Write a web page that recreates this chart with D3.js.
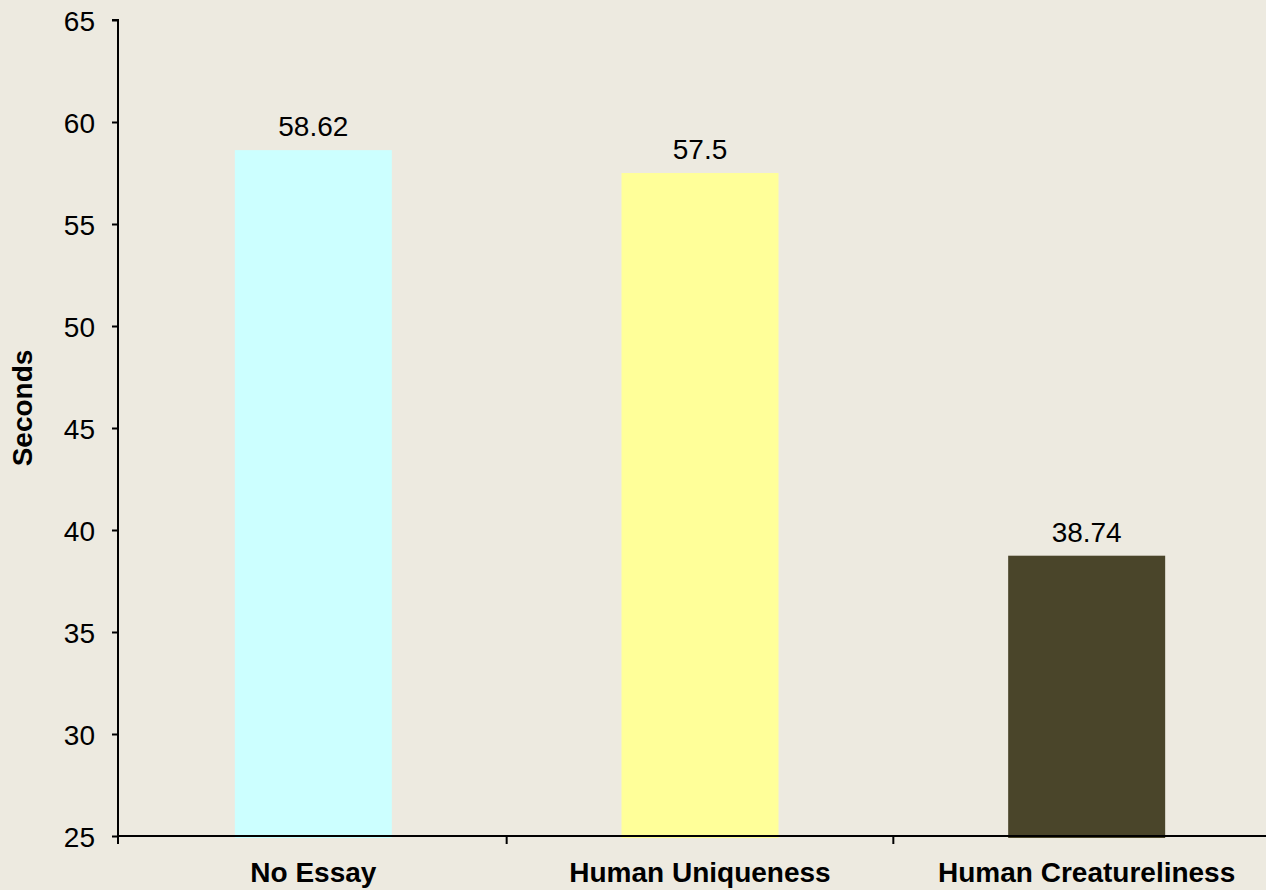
<!DOCTYPE html>
<html>
<head>
<meta charset="utf-8">
<script src="https://cdn.jsdelivr.net/npm/d3@7"></script>
<style>
  body { margin: 0; background: #EDEAE0; }
  svg { display: block; font-family: "Liberation Sans", Arial, sans-serif; }
</style>
</head>
<body>
<div id="chart"></div>
<script>
const categories = ["No Essay", "Human Uniqueness", "Human Creatureliness"];
const values = [58.62, 57.5, 38.74];
const valueLabels = ["58.62", "57.5", "38.74"];
const barColors = ["#CCFFFF", "#FFFF99", "#4A452A"];
const yTicks = [25, 30, 35, 40, 45, 50, 55, 60, 65];

const width = 1266, height = 890;
const plotLeft = 118, plotTop = 20, plotBottom = 836;
const fontSize = 28;

const svg = d3.select('#chart')
    .append('svg')
    .attr('width', width)
    .attr('height', height);

svg.append('rect')
    .attr('width', width)
    .attr('height', height)
    .attr('fill', '#EDEAE0');

const y = d3.scaleLinear().domain([25, 65]).range([plotBottom, plotTop]);
const x = d3.scaleBand().domain(categories).range([120, 1280]).paddingInner(0).paddingOuter(0);
const barW = 157;

// bars
svg.selectAll('rect.bar').data(values)
    .enter().append('rect')
    .attr('class', 'bar')
    .attr('x', (d, i) => x(categories[i]) + x.bandwidth() / 2 - barW / 2)
    .attr('y', d => y(d))
    .attr('width', barW)
    .attr('height', d => y(25) - y(d) + 2)
    .attr('fill', (d, i) => barColors[i]);

// value labels
svg.selectAll('text.val').data(values)
    .enter().append('text')
    .attr('class', 'val')
    .attr('x', (d, i) => x(categories[i]) + x.bandwidth() / 2)
    .attr('y', d => y(d) - 14)
    .attr('text-anchor', 'middle')
    .attr('font-size', fontSize)
    .attr('fill', '#000')
    .text((d, i) => valueLabels[i]);

// y axis
const yAxis = svg.append('g')
    .attr('transform', `translate(${plotLeft},0)`)
    .call(d3.axisLeft(y).tickValues(yTicks).tickSize(6).tickPadding(17).tickFormat(d3.format('d')));
yAxis.select('.domain').attr('stroke', '#000').attr('stroke-width', 2).attr('d', `M-6,${plotTop}H0V${plotBottom}`);
yAxis.selectAll('.tick line').attr('stroke', '#000').attr('stroke-width', 2);
yAxis.selectAll('.tick text')
    .attr('font-size', fontSize)
    .attr('font-family', '"Liberation Sans", Arial, sans-serif')
    .attr('fill', '#000')
    .attr('dy', '0.36em');

// x axis line and ticks at band edges
svg.append('line')
    .attr('x1', plotLeft).attr('x2', width)
    .attr('y1', plotBottom).attr('y2', plotBottom)
    .attr('stroke', '#000').attr('stroke-width', 2);

const edges = categories.map(c => x(c)).concat([x.range()[1]]);
edges[0] = plotLeft;
svg.selectAll('line.xtick').data(edges)
    .enter().append('line')
    .attr('class', 'xtick')
    .attr('x1', d => d).attr('x2', d => d)
    .attr('y1', plotBottom).attr('y2', plotBottom + 8)
    .attr('stroke', '#000').attr('stroke-width', 2);

// category labels
svg.selectAll('text.cat').data(categories)
    .enter().append('text')
    .attr('class', 'cat')
    .attr('x', d => x(d) + x.bandwidth() / 2)
    .attr('y', 882)
    .attr('text-anchor', 'middle')
    .attr('font-size', fontSize)
    .attr('font-weight', 'bold')
    .text(d => d);

// y axis title
svg.append('text')
    .attr('transform', 'translate(32,408) rotate(-90)')
    .attr('text-anchor', 'middle')
    .attr('font-size', fontSize)
    .attr('font-weight', 'bold')
    .text('Seconds');
</script>
</body>
</html>
